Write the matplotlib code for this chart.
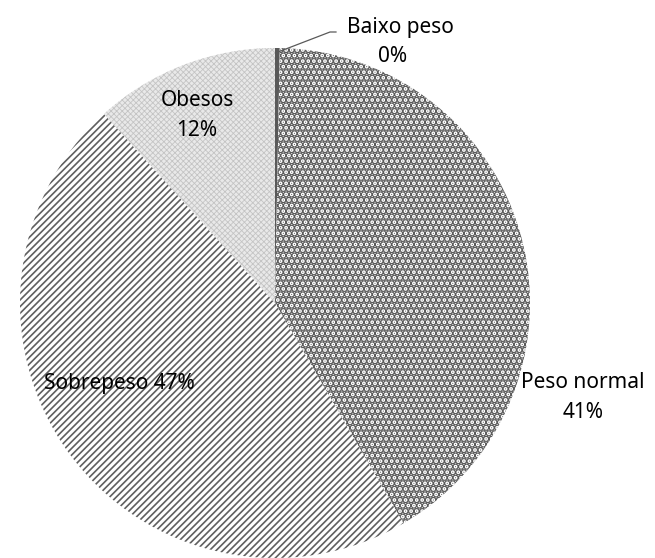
import matplotlib
matplotlib.use("Agg")
import matplotlib.pyplot as plt

plt.rcParams["font.family"] = ["Noto Sans", "DejaVu Sans"]

categories = ["Baixo peso", "Peso normal", "Sobrepeso", "Obesos"]
values = [0.3, 41.3, 46.7, 11.7]

faces = ["#595959", "white", "white", "#e9e9e9"]
hatch_colors = ["#595959", "#5a5a5a", "#5f5f5f", "#c4c4c4"]
hatches = [None, "...", "/////", "xxxxxx"]
hatch_widths = [1.0, 3.6, 1.2, 0.6]

W, H = 655, 558
fig = plt.figure(figsize=(W / 100, H / 100), dpi=100)
ax = fig.add_axes([0, 0, 1, 1])

wedges, _ = ax.pie(values, startangle=90, counterclock=False,
                   center=(275, H - 303), radius=255, frame=True)
ax.set_xlim(0, W)
ax.set_ylim(0, H)
ax.set_aspect("equal")
ax.axis("off")

for w, fc, hc, h, lw in zip(wedges, faces, hatch_colors, hatches, hatch_widths):
    w.set_facecolor(fc)
    w.set_edgecolor(hc)
    w.set_linewidth(0)
    if h:
        w.set_hatch(h)
        if hasattr(w, "set_hatch_linewidth"):
            w.set_hatch_linewidth(lw)

# labels
fs = 15
ax.text(400, H - 28, "Baixo peso", ha="center", va="center", fontsize=fs)
ax.text(393, H - 56, "0%", ha="center", va="center", fontsize=fs)
ax.plot([278, 330, 336], [H - 52, H - 32, H - 32], color="#595959", lw=0.9)
ax.text(197, H - 101, "Obesos", ha="center", va="center", fontsize=fs)
ax.text(197, H - 131, "12%", ha="center", va="center", fontsize=fs)
ax.text(44, H - 384, "Sobrepeso 47%", ha="left", va="center", fontsize=fs)
ax.text(583, H - 383, "Peso normal", ha="center", va="center", fontsize=fs)
ax.text(583, H - 413, "41%", ha="center", va="center", fontsize=fs)

fig.savefig("out.png", dpi=100)
